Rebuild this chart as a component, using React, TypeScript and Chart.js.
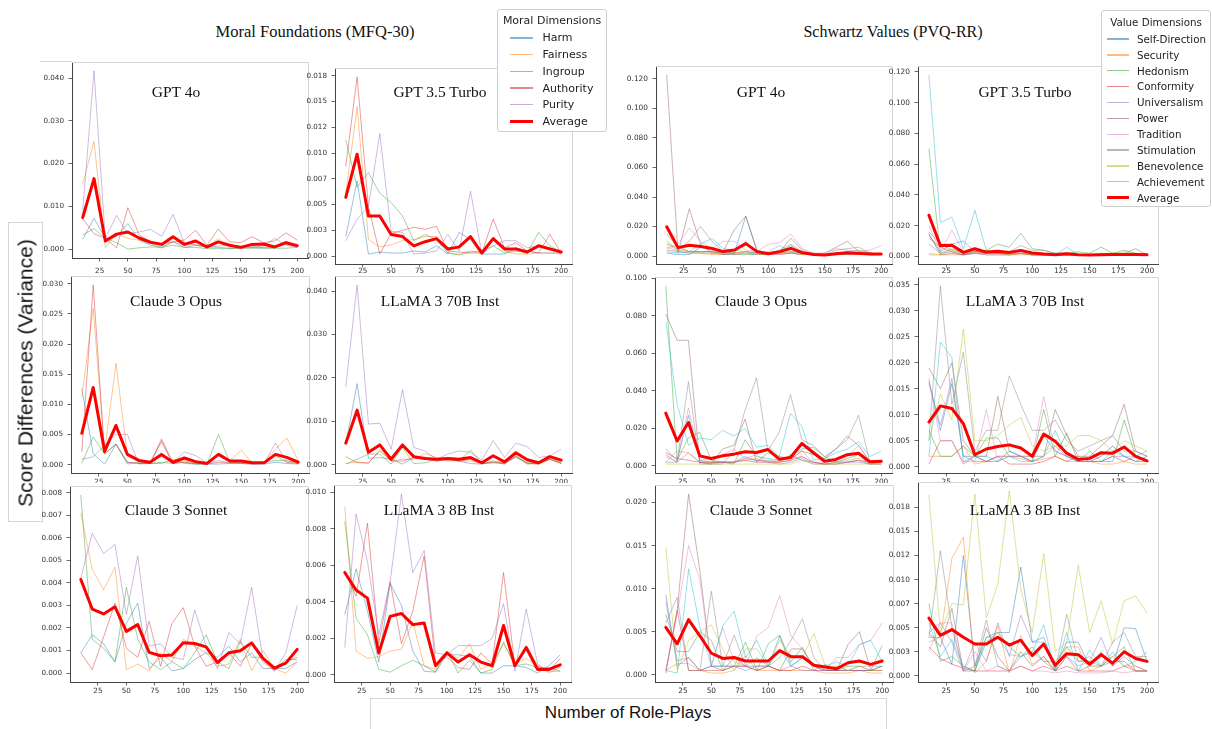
import React, { useEffect, useRef } from "react";
import { Chart, registerables } from "chart.js";

Chart.register(...registerables);

// ---------------- shared categories ----------------
const ROLE_PLAYS = [10, 20, 30, 40, 50, 60, 70, 80, 90, 100, 110, 120, 130, 140, 150, 160, 170, 180, 190, 200];
const X_TICKS = [25, 50, 75, 100, 125, 150, 175, 200];
const MODELS = ["GPT 4o", "GPT 3.5 Turbo", "Claude 3 Opus", "LLaMA 3 70B Inst", "Claude 3 Sonnet", "LLaMA 3 8B Inst"];
const MORAL_DIMENSIONS = ["Harm", "Fairness", "Ingroup", "Authority", "Purity"];
const VALUE_DIMENSIONS = ["Self-Direction", "Security", "Hedonism", "Conformity", "Universalism", "Power", "Tradition", "Stimulation", "Benevolence", "Achievement"];
const TAB10 = ["#1f77b4", "#ff7f0e", "#2ca02c", "#d62728", "#9467bd", "#8c564b", "#e377c2", "#7f7f7f", "#bcbd22", "#17becf"];
const AVERAGE_COLOR = "#ff0000";

// ---------------- y tick values / labels ----------------
const Y_TICKS_040 = [0, 0.01, 0.02, 0.03, 0.04];
const Y_LABELS_040 = ["0.000", "0.010", "0.020", "0.030", "0.040"];
const Y_TICKS_018 = [0, 0.0025, 0.005, 0.0075, 0.01, 0.0125, 0.015, 0.0175];
const Y_LABELS_018 = ["0.000", "0.003", "0.005", "0.007", "0.010", "0.012", "0.015", "0.018"];
const Y_TICKS_030 = [0, 0.005, 0.01, 0.015, 0.02, 0.025, 0.03];
const Y_LABELS_030 = ["0.000", "0.005", "0.010", "0.015", "0.020", "0.025", "0.030"];
const Y_TICKS_008 = [0, 0.001, 0.002, 0.003, 0.004, 0.005, 0.006, 0.007, 0.008];
const Y_LABELS_008 = ["0.000", "0.001", "0.002", "0.003", "0.004", "0.005", "0.006", "0.007", "0.008"];
const Y_TICKS_010 = [0, 0.002, 0.004, 0.006, 0.008, 0.01];
const Y_LABELS_010 = ["0.000", "0.002", "0.004", "0.006", "0.008", "0.010"];
const Y_TICKS_120 = [0, 0.02, 0.04, 0.06, 0.08, 0.1, 0.12];
const Y_LABELS_120 = ["0.000", "0.020", "0.040", "0.060", "0.080", "0.100", "0.120"];
const Y_TICKS_100 = [0, 0.02, 0.04, 0.06, 0.08, 0.1];
const Y_LABELS_100 = ["0.000", "0.020", "0.040", "0.060", "0.080", "0.100"];
const Y_TICKS_035 = [0, 0.005, 0.01, 0.015, 0.02, 0.025, 0.03, 0.035];
const Y_LABELS_035 = ["0.000", "0.005", "0.010", "0.015", "0.020", "0.025", "0.030", "0.035"];
const Y_TICKS_020 = [0, 0.005, 0.01, 0.015, 0.02];
const Y_LABELS_020 = ["0.000", "0.005", "0.010", "0.015", "0.020"];

// ---------------- Moral Foundations (MFQ-30): Harm, Fairness, Ingroup, Authority, Purity ----------------
const MFQ_GPT4O = [
  [0.0023, 0.0072, 0.0025, 0.0029, 0.006, 0.0021, 0.0009, 0.0005, 0.0017, 0.0004, 0.0009, 0.0005, 0.0004, 0.0002, 0.0002, 0.0004, 0.0003, 0.0003, 0.0012, 0.0004],
  [0.0153, 0.0252, 0.0004, 0.0036, 0.0025, 0.0021, 0.0013, 0.0002, 0.0017, 0.0009, 0.0011, 0.0003, 0.0025, 0.0005, 0.0004, 0.0005, 0.0004, 0.0005, 0.0019, 0.0007],
  [0.0033, 0.0048, 0.0025, 0.0015, 0.0, 0.0003, 0.0005, 0.0004, 0.0009, 0.0004, 0.0004, 0.0001, 0.0001, 0.0001, 0.0002, 0.0002, 0.0002, 0.0002, 0.0002, 0.0004],
  [0.0071, 0.0036, 0.0025, 0.0003, 0.0097, 0.0033, 0.0017, 0.0013, 0.0017, 0.0021, 0.0044, 0.0009, 0.0047, 0.0017, 0.0015, 0.0029, 0.0015, 0.0019, 0.0038, 0.0021],
  [0.009, 0.0417, 0.0025, 0.0079, 0.0036, 0.004, 0.0046, 0.003, 0.0081, 0.0015, 0.0009, 0.0005, 0.0007, 0.0009, 0.0007, 0.0005, 0.0007, 0.0025, 0.0009, 0.0005],
];
const MFQ_GPT4O_AVG = [0.0074, 0.0165, 0.0019, 0.0035, 0.004, 0.0026, 0.0016, 0.0011, 0.0029, 0.0011, 0.0019, 0.0005, 0.0017, 0.0009, 0.0004, 0.0011, 0.0012, 0.0005, 0.0015, 0.0008];

const MFQ_GPT35 = [
  [0.0019, 0.0073, 0.0002, 0.0004, 0.0003, 0.0003, 0.0005, 0.0004, 0.001, 0.0002, 0.0023, 0.0016, 0.0002, 0.0002, 0.0002, 0.0008, 0.0005, 0.0003, 0.0003, 0.0003],
  [0.0061, 0.0145, 0.0016, 0.0009, 0.0011, 0.0015, 0.0016, 0.0019, 0.0019, 0.0003, 0.0002, 0.0005, 0.0003, 0.0016, 0.0005, 0.0002, 0.0002, 0.0003, 0.0003, 0.0002],
  [0.0113, 0.0067, 0.0081, 0.0061, 0.0052, 0.0039, 0.0015, 0.0021, 0.0016, 0.0003, 0.0001, 0.0004, 0.0005, 0.001, 0.0003, 0.0005, 0.0003, 0.0023, 0.001, 0.0004],
  [0.0087, 0.0174, 0.0048, 0.0002, 0.0022, 0.0025, 0.0028, 0.0026, 0.0029, 0.0005, 0.0004, 0.0003, 0.0003, 0.0036, 0.0008, 0.0013, 0.0005, 0.0003, 0.0021, 0.0003],
  [0.0015, 0.0036, 0.0048, 0.0119, 0.0024, 0.0023, 0.0002, 0.0003, 0.0005, 0.0021, 0.0005, 0.0063, 0.0002, 0.001, 0.0015, 0.0015, 0.0008, 0.001, 0.0006, 0.0003],
];
const MFQ_GPT35_AVG = [0.0057, 0.0099, 0.0039, 0.0039, 0.0021, 0.0019, 0.001, 0.0014, 0.0017, 0.0007, 0.0009, 0.0019, 0.0003, 0.0017, 0.0007, 0.0007, 0.0004, 0.001, 0.0007, 0.0004];

const MFQ_OPUS = [
  [0.0126, 0.0018, 0.0001, 0.0034, 0.0004, 0.0002, 0.0002, 0.0002, 0.0009, 0.0002, 0.0001, 0.0001, 0.0001, 0.0002, 0.0002, 0.0001, 0.0001, 0.0004, 0.0002, 0.0001],
  [0.0112, 0.0259, 0.0021, 0.0168, 0.0015, 0.0007, 0.0004, 0.0037, 0.0002, 0.0007, 0.0002, 0.0004, 0.0018, 0.0007, 0.0024, 0.0002, 0.0004, 0.0026, 0.0044, 0.0007],
  [0.0002, 0.0046, 0.0018, 0.0034, 0.0001, 0.0004, 0.0002, 0.0004, 0.0002, 0.0004, 0.0001, 0.0001, 0.005, 0.0004, 0.0004, 0.0002, 0.0004, 0.0007, 0.0007, 0.0002],
  [0.0021, 0.0298, 0.0018, 0.0034, 0.0004, 0.0002, 0.0002, 0.004, 0.0002, 0.0004, 0.0002, 0.0001, 0.0004, 0.0004, 0.0002, 0.0001, 0.0002, 0.0015, 0.0004, 0.0002],
  [0.0009, 0.0013, 0.0032, 0.005, 0.005, 0.0001, 0.0002, 0.0043, 0.0004, 0.0021, 0.0015, 0.0002, 0.0007, 0.0002, 0.0004, 0.0002, 0.0002, 0.0036, 0.0004, 0.0007],
];
const MFQ_OPUS_AVG = [0.0052, 0.0128, 0.0022, 0.0065, 0.0017, 0.0007, 0.0004, 0.0017, 0.0004, 0.0011, 0.0005, 0.0002, 0.0017, 0.0006, 0.0006, 0.0003, 0.0003, 0.0017, 0.0012, 0.0004];

const MFQ_LLAMA70 = [
  [0.0048, 0.0187, 0.0015, 0.0017, 0.0013, 0.0002, 0.0017, 0.0013, 0.0009, 0.0013, 0.0009, 0.0003, 0.0002, 0.0009, 0.0005, 0.0017, 0.0005, 0.0003, 0.0013, 0.0005],
  [0.0003, 0.0007, 0.0003, 0.0036, 0.0009, 0.0013, 0.0013, 0.0026, 0.0017, 0.0009, 0.0009, 0.0009, 0.0003, 0.0005, 0.0005, 0.0019, 0.0005, 0.0002, 0.0013, 0.0003],
  [0.0002, 0.0013, 0.0025, 0.0025, 0.0002, 0.004, 0.0003, 0.0005, 0.0013, 0.0013, 0.0009, 0.0034, 0.0003, 0.0005, 0.0003, 0.0021, 0.0002, 0.0005, 0.0017, 0.0005],
  [0.0019, 0.0005, 0.0005, 0.0032, 0.0009, 0.0009, 0.0017, 0.0017, 0.0009, 0.0013, 0.0009, 0.0013, 0.0003, 0.0007, 0.0002, 0.0021, 0.0003, 0.0002, 0.0013, 0.0003],
  [0.0179, 0.0414, 0.0094, 0.0096, 0.0036, 0.0173, 0.004, 0.0032, 0.0013, 0.0025, 0.0032, 0.0029, 0.0011, 0.0056, 0.0017, 0.005, 0.0042, 0.0017, 0.0021, 0.0036],
];
const MFQ_LLAMA70_AVG = [0.005, 0.0126, 0.0029, 0.0046, 0.0013, 0.0046, 0.0019, 0.0015, 0.0013, 0.0015, 0.0013, 0.0017, 0.0005, 0.0021, 0.0007, 0.0028, 0.0012, 0.0005, 0.0019, 0.0011];

const MFQ_SONNET = [
  [0.0009, 0.0017, 0.0013, 0.0005, 0.0022, 0.0031, 0.0002, 0.0007, 0.0001, 0.0002, 0.0006, 0.0009, 0.0007, 0.0012, 0.0005, 0.0009, 0.0002, 0.0002, 0.0002, 0.0005],
  [0.0071, 0.0046, 0.0037, 0.0047, 0.00015, 0.0004, 0.0001, 0.0009, 0.0005, 0.0015, 0.0012, 0.0009, 0.0003, 0.0004, 0.0015, 0.0001, 0.001, 0.0002, 0.0, 0.0005],
  [0.0079, 0.0015, 0.0011, 0.0005, 0.0038, 0.0015, 0.0005, 0.00015, 0.0005, 0.0002, 0.0009, 0.0017, 0.0005, 0.0002, 0.0014, 0.0007, 0.0007, 0.0002, 0.0006, 0.0006],
  [0.0009, 0.00015, 0.0016, 0.0031, 0.0011, 0.0007, 0.0023, 0.0003, 0.0022, 0.0029, 0.0012, 0.0003, 0.0005, 0.0009, 0.0003, 0.0013, 0.0005, 0.0001, 0.0005, 0.0007],
  [0.0042, 0.0062, 0.0053, 0.0057, 0.0026, 0.0052, 0.0012, 0.0013, 0.0007, 0.0006, 0.0028, 0.0012, 0.0002, 0.0018, 0.0013, 0.0038, 0.0006, 0.0001, 0.0009, 0.003],
];
const MFQ_SONNET_AVG = [0.00415, 0.00284, 0.00262, 0.00294, 0.00185, 0.00215, 0.00092, 0.00077, 0.0008, 0.00135, 0.00131, 0.00116, 0.00047, 0.0009, 0.00099, 0.00134, 0.00065, 0.00022, 0.00044, 0.00105];

const MFQ_LLAMA8 = [
  [0.0033, 0.0058, 0.0035, 0.0007, 0.005, 0.0038, 0.0013, 0.0002, 0.00015, 0.0011, 0.0011, 0.001, 0.0001, 0.0001, 0.0005, 0.0005, 0.0004, 0.0001, 0.0005, 0.0011],
  [0.0092, 0.0013, 0.0009, 0.001, 0.0013, 0.0014, 0.0029, 0.0005, 0.0003, 0.0013, 0.0009, 0.0017, 0.0003, 0.0006, 0.0017, 0.0006, 0.0009, 0.0005, 0.0001, 0.0004],
  [0.0084, 0.0031, 0.0022, 0.0003, 0.00015, 0.0005, 0.0008, 0.0005, 0.00015, 0.0013, 0.0001, 0.0008, 0.0001, 0.0003, 0.0018, 0.0005, 0.0006, 0.0004, 0.0004, 0.0002],
  [0.0057, 0.0043, 0.0083, 0.0017, 0.0051, 0.0017, 0.0035, 0.0065, 0.0006, 0.001, 0.0004, 0.0003, 0.0012, 0.0006, 0.0056, 0.0005, 0.0016, 0.0005, 0.0002, 0.0009],
  [0.0015, 0.0088, 0.0062, 0.0022, 0.0051, 0.0099, 0.0056, 0.0068, 0.0012, 0.0011, 0.0016, 0.0016, 0.0016, 0.002, 0.0039, 0.0002, 0.0036, 0.0006, 0.0002, 0.0002],
];
const MFQ_LLAMA8_AVG = [0.0056, 0.00464, 0.0042, 0.0012, 0.0032, 0.00336, 0.00275, 0.00284, 0.0005, 0.0012, 0.0007, 0.0011, 0.0007, 0.0005, 0.0027, 0.0005, 0.0015, 0.0003, 0.0003, 0.00055];

// ---------------- Schwartz Values (PVQ-RR), order of VALUE_DIMENSIONS ----------------
const PVQ_GPT4O = [
  [0.002, 0.001, 0.001, 0.006, 0.004, 0.002, 0.002, 0.027, 0.003, 0.001, 0.002, 0.002, 0.001, 0.001, 0.001, 0.001, 0.001, 0.001, 0.001, 0.001],
  [0.006, 0.003, 0.002, 0.002, 0.001, 0.001, 0.002, 0.002, 0.002, 0.001, 0.001, 0.002, 0.001, 0.001, 0.001, 0.001, 0.001, 0.001, 0.001, 0.001],
  [0.01, 0.004, 0.003, 0.003, 0.003, 0.001, 0.001, 0.001, 0.001, 0.001, 0.003, 0.007, 0.002, 0.001, 0.001, 0.002, 0.003, 0.004, 0.002, 0.001],
  [0.015, 0.006, 0.003, 0.003, 0.003, 0.002, 0.002, 0.003, 0.002, 0.002, 0.002, 0.003, 0.002, 0.001, 0.001, 0.002, 0.002, 0.002, 0.001, 0.001],
  [0.004, 0.003, 0.002, 0.002, 0.002, 0.001, 0.001, 0.002, 0.001, 0.001, 0.001, 0.002, 0.001, 0.001, 0.001, 0.001, 0.001, 0.001, 0.001, 0.001],
  [0.1227, 0.0023, 0.032, 0.008, 0.002, 0.003, 0.018, 0.027, 0.004, 0.002, 0.003, 0.012, 0.004, 0.001, 0.002, 0.006, 0.01, 0.003, 0.002, 0.001],
  [0.005, 0.008, 0.019, 0.01, 0.005, 0.01, 0.01, 0.004, 0.003, 0.008, 0.009, 0.015, 0.005, 0.002, 0.002, 0.005, 0.004, 0.003, 0.004, 0.007],
  [0.008, 0.004, 0.01, 0.02, 0.01, 0.003, 0.002, 0.01, 0.003, 0.002, 0.004, 0.008, 0.003, 0.002, 0.001, 0.004, 0.005, 0.006, 0.002, 0.001],
  [0.008, 0.006, 0.003, 0.002, 0.002, 0.002, 0.001, 0.003, 0.001, 0.002, 0.002, 0.003, 0.001, 0.001, 0.001, 0.001, 0.002, 0.001, 0.001, 0.001],
  [0.003, 0.002, 0.003, 0.008, 0.012, 0.005, 0.004, 0.003, 0.002, 0.003, 0.007, 0.003, 0.002, 0.001, 0.001, 0.002, 0.002, 0.002, 0.001, 0.001],
];
const PVQ_GPT4O_AVG = [0.0198, 0.0057, 0.0073, 0.0064, 0.0052, 0.003, 0.0041, 0.0084, 0.003, 0.0016, 0.003, 0.0052, 0.0023, 0.0011, 0.0007, 0.0016, 0.0023, 0.0018, 0.0014, 0.0014];

const PVQ_GPT35 = [
  [0.014, 0.003, 0.008, 0.01, 0.003, 0.003, 0.002, 0.002, 0.002, 0.001, 0.001, 0.001, 0.001, 0.001, 0.001, 0.001, 0.001, 0.001, 0.001, 0.001],
  [0.001, 0.001, 0.001, 0.001, 0.002, 0.001, 0.001, 0.001, 0.001, 0.001, 0.001, 0.001, 0.001, 0.001, 0.001, 0.001, 0.001, 0.001, 0.001, 0.001],
  [0.07, 0.002, 0.005, 0.002, 0.003, 0.004, 0.008, 0.006, 0.015, 0.005, 0.004, 0.002, 0.002, 0.003, 0.002, 0.006, 0.002, 0.004, 0.002, 0.001],
  [0.012, 0.006, 0.003, 0.001, 0.003, 0.002, 0.002, 0.002, 0.003, 0.002, 0.001, 0.001, 0.002, 0.001, 0.001, 0.001, 0.002, 0.001, 0.001, 0.001],
  [0.008, 0.002, 0.003, 0.001, 0.002, 0.001, 0.001, 0.001, 0.002, 0.001, 0.001, 0.001, 0.001, 0.001, 0.001, 0.001, 0.001, 0.001, 0.001, 0.001],
  [0.015, 0.001, 0.002, 0.001, 0.002, 0.002, 0.002, 0.001, 0.002, 0.001, 0.001, 0.001, 0.001, 0.001, 0.001, 0.002, 0.001, 0.002, 0.005, 0.001],
  [0.02, 0.003, 0.017, 0.003, 0.002, 0.002, 0.003, 0.002, 0.003, 0.002, 0.002, 0.002, 0.002, 0.001, 0.001, 0.001, 0.001, 0.001, 0.001, 0.001],
  [0.016, 0.008, 0.004, 0.002, 0.004, 0.002, 0.004, 0.003, 0.007, 0.004, 0.004, 0.002, 0.002, 0.001, 0.001, 0.001, 0.002, 0.001, 0.002, 0.001],
  [0.002, 0.001, 0.004, 0.002, 0.002, 0.002, 0.002, 0.001, 0.002, 0.001, 0.002, 0.001, 0.001, 0.001, 0.001, 0.002, 0.002, 0.003, 0.002, 0.001],
  [0.118, 0.022, 0.0255, 0.005, 0.03, 0.004, 0.002, 0.003, 0.004, 0.002, 0.001, 0.001, 0.006, 0.001, 0.001, 0.001, 0.001, 0.001, 0.001, 0.002],
];
const PVQ_GPT35_AVG = [0.0268, 0.007, 0.0072, 0.0026, 0.005, 0.0028, 0.0033, 0.0026, 0.0039, 0.0022, 0.0015, 0.0011, 0.0017, 0.0011, 0.0009, 0.0011, 0.0013, 0.0013, 0.0013, 0.0011];

const PVQ_OPUS = [
  [0.009, 0.003, 0.027, 0.003, 0.002, 0.002, 0.002, 0.004, 0.003, 0.003, 0.002, 0.006, 0.003, 0.002, 0.001, 0.002, 0.002, 0.003, 0.001, 0.001],
  [0.002, 0.008, 0.007, 0.002, 0.002, 0.002, 0.002, 0.003, 0.004, 0.002, 0.002, 0.003, 0.008, 0.002, 0.001, 0.002, 0.003, 0.004, 0.002, 0.002],
  [0.096, 0.003, 0.015, 0.018, 0.003, 0.002, 0.001, 0.014, 0.005, 0.004, 0.003, 0.005, 0.009, 0.01, 0.005, 0.002, 0.004, 0.006, 0.001, 0.002],
  [0.007, 0.004, 0.003, 0.002, 0.002, 0.002, 0.002, 0.003, 0.002, 0.002, 0.002, 0.003, 0.005, 0.002, 0.001, 0.001, 0.002, 0.003, 0.002, 0.002],
  [0.006, 0.002, 0.007, 0.002, 0.001, 0.002, 0.002, 0.005, 0.003, 0.002, 0.001, 0.002, 0.004, 0.001, 0.001, 0.001, 0.002, 0.002, 0.001, 0.001],
  [0.081, 0.067, 0.067, 0.002, 0.001, 0.009, 0.011, 0.025, 0.002, 0.007, 0.005, 0.004, 0.008, 0.006, 0.004, 0.009, 0.016, 0.011, 0.002, 0.002],
  [0.005, 0.002, 0.031, 0.003, 0.004, 0.006, 0.009, 0.004, 0.006, 0.002, 0.003, 0.004, 0.005, 0.002, 0.002, 0.003, 0.005, 0.011, 0.003, 0.003],
  [0.002, 0.002, 0.045, 0.001, 0.001, 0.001, 0.008, 0.03, 0.047, 0.008, 0.018, 0.038, 0.014, 0.011, 0.005, 0.009, 0.014, 0.027, 0.002, 0.002],
  [0.001, 0.001, 0.001, 0.001, 0.001, 0.001, 0.001, 0.001, 0.001, 0.001, 0.001, 0.001, 0.003, 0.001, 0.001, 0.001, 0.001, 0.001, 0.001, 0.001],
  [0.077, 0.033, 0.011, 0.015, 0.014, 0.019, 0.016, 0.02, 0.01, 0.011, 0.005, 0.028, 0.021, 0.003, 0.004, 0.007, 0.009, 0.013, 0.005, 0.008],
];
const PVQ_OPUS_AVG = [0.0282, 0.0133, 0.0232, 0.0054, 0.004, 0.0054, 0.0063, 0.0076, 0.0072, 0.0088, 0.0036, 0.0045, 0.012, 0.0072, 0.0025, 0.0035, 0.006, 0.0068, 0.0022, 0.0025];

const PVQ_LLAMA70 = [
  [0.0165, 0.007, 0.016, 0.002, 0.002, 0.001, 0.001, 0.003, 0.002, 0.001, 0.006, 0.003, 0.002, 0.001, 0.001, 0.002, 0.004, 0.002, 0.001, 0.002],
  [0.002, 0.002, 0.002, 0.004, 0.0005, 0.001, 0.002, 0.002, 0.0015, 0.001, 0.0015, 0.002, 0.001, 0.001, 0.001, 0.0005, 0.0005, 0.001, 0.0005, 0.0005],
  [0.007, 0.002, 0.002, 0.004, 0.002, 0.0055, 0.0055, 0.002, 0.002, 0.001, 0.011, 0.002, 0.0065, 0.001, 0.003, 0.001, 0.001, 0.009, 0.002, 0.001],
  [0.0005, 0.005, 0.005, 0.0005, 0.002, 0.001, 0.002, 0.0005, 0.0005, 0.0005, 0.001, 0.002, 0.001, 0.002, 0.001, 0.001, 0.002, 0.001, 0.002, 0.001],
  [0.016, 0.008, 0.017, 0.002, 0.001, 0.001, 0.002, 0.002, 0.002, 0.001, 0.002, 0.004, 0.002, 0.001, 0.001, 0.001, 0.002, 0.002, 0.001, 0.001],
  [0.019, 0.015, 0.02, 0.005, 0.002, 0.002, 0.0135, 0.003, 0.002, 0.002, 0.002, 0.011, 0.006, 0.002, 0.002, 0.004, 0.006, 0.012, 0.003, 0.002],
  [0.017, 0.005, 0.005, 0.001, 0.001, 0.011, 0.001, 0.002, 0.002, 0.002, 0.0135, 0.003, 0.002, 0.001, 0.001, 0.002, 0.004, 0.002, 0.001, 0.001],
  [0.005, 0.0348, 0.012, 0.022, 0.003, 0.007, 0.007, 0.0175, 0.012, 0.007, 0.007, 0.009, 0.005, 0.003, 0.004, 0.005, 0.006, 0.003, 0.003, 0.002],
  [0.005, 0.014, 0.009, 0.0265, 0.005, 0.005, 0.006, 0.008, 0.0095, 0.004, 0.003, 0.004, 0.004, 0.006, 0.006, 0.005, 0.003, 0.005, 0.004, 0.003],
  [0.002, 0.024, 0.021, 0.001, 0.002, 0.002, 0.001, 0.002, 0.001, 0.001, 0.002, 0.007, 0.002, 0.001, 0.001, 0.001, 0.003, 0.002, 0.002, 0.003],
];
const PVQ_LLAMA70_AVG = [0.0086, 0.0117, 0.0112, 0.0083, 0.0023, 0.0034, 0.0039, 0.0042, 0.0036, 0.002, 0.0063, 0.0049, 0.0026, 0.0014, 0.0016, 0.0027, 0.0026, 0.0038, 0.002, 0.0011];

const PVQ_SONNET = [
  [0.0093, 0.001, 0.002, 0.0005, 0.001, 0.001, 0.001, 0.001, 0.001, 0.001, 0.0045, 0.001, 0.002, 0.001, 0.0005, 0.0005, 0.0005, 0.0005, 0.0005, 0.001],
  [0.0005, 0.0013, 0.0013, 0.0005, 0.0002, 0.0002, 0.0005, 0.0022, 0.0005, 0.0005, 0.0005, 0.0005, 0.0005, 0.0005, 0.0002, 0.0002, 0.0002, 0.0005, 0.0002, 0.0002],
  [0.007, 0.0027, 0.0027, 0.005, 0.004, 0.0005, 0.001, 0.0038, 0.0005, 0.0036, 0.0046, 0.0015, 0.0032, 0.0005, 0.0012, 0.0005, 0.001, 0.001, 0.0005, 0.0034],
  [0.0002, 0.0075, 0.0005, 0.0005, 0.0005, 0.0005, 0.001, 0.001, 0.0005, 0.001, 0.0005, 0.0005, 0.001, 0.0005, 0.0005, 0.0005, 0.0005, 0.0005, 0.0005, 0.0005],
  [0.0085, 0.0016, 0.002, 0.0005, 0.001, 0.001, 0.001, 0.0005, 0.001, 0.001, 0.0005, 0.001, 0.0005, 0.0005, 0.0005, 0.0005, 0.0005, 0.0005, 0.0005, 0.0005],
  [0.0005, 0.0075, 0.021, 0.012, 0.001, 0.0005, 0.002, 0.001, 0.0005, 0.001, 0.0005, 0.003, 0.003, 0.001, 0.0005, 0.0005, 0.0035, 0.005, 0.0005, 0.001],
  [0.0005, 0.007, 0.015, 0.011, 0.001, 0.0055, 0.0015, 0.001, 0.0045, 0.0055, 0.0092, 0.0045, 0.003, 0.001, 0.0005, 0.002, 0.002, 0.0035, 0.004, 0.006],
  [0.006, 0.009, 0.0005, 0.0005, 0.0097, 0.001, 0.0046, 0.001, 0.002, 0.001, 0.002, 0.004, 0.0065, 0.002, 0.0005, 0.001, 0.0005, 0.001, 0.001, 0.001],
  [0.0148, 0.0005, 0.004, 0.005, 0.0058, 0.003, 0.0005, 0.003, 0.003, 0.001, 0.004, 0.002, 0.002, 0.0048, 0.001, 0.001, 0.0005, 0.001, 0.0005, 0.0005],
  [0.0005, 0.0002, 0.0123, 0.0055, 0.001, 0.0057, 0.0074, 0.002, 0.004, 0.001, 0.003, 0.001, 0.002, 0.001, 0.001, 0.0015, 0.001, 0.0035, 0.004, 0.0015],
];
const PVQ_SONNET_AVG = [0.0055, 0.0036, 0.0064, 0.0045, 0.0025, 0.0019, 0.002, 0.0016, 0.0016, 0.0016, 0.0028, 0.0021, 0.0021, 0.0011, 0.0009, 0.0007, 0.0014, 0.0016, 0.0012, 0.0016];

const PVQ_LLAMA8 = [
  [0.004, 0.004, 0.0012, 0.0125, 0.001, 0.004, 0.0045, 0.0045, 0.0113, 0.0035, 0.004, 0.0008, 0.0035, 0.0035, 0.001, 0.0025, 0.001, 0.005, 0.0049, 0.0015],
  [0.0035, 0.004, 0.0122, 0.0144, 0.0003, 0.0015, 0.0052, 0.0003, 0.0042, 0.0012, 0.002, 0.0005, 0.003, 0.003, 0.0005, 0.001, 0.002, 0.001, 0.001, 0.0005],
  [0.0075, 0.0015, 0.002, 0.001, 0.0005, 0.0035, 0.0045, 0.003, 0.002, 0.003, 0.0015, 0.0015, 0.003, 0.0015, 0.0015, 0.001, 0.002, 0.003, 0.0005, 0.0005],
  [0.003, 0.0018, 0.0012, 0.0008, 0.0005, 0.0005, 0.0005, 0.0005, 0.001, 0.0005, 0.001, 0.0005, 0.001, 0.0005, 0.0005, 0.0005, 0.0005, 0.001, 0.0005, 0.0005],
  [0.0045, 0.0055, 0.0035, 0.0005, 0.0035, 0.0015, 0.0055, 0.002, 0.0063, 0.0035, 0.0035, 0.0005, 0.002, 0.001, 0.0015, 0.004, 0.001, 0.002, 0.001, 0.0005],
  [0.0045, 0.003, 0.007, 0.0005, 0.0005, 0.005, 0.002, 0.0005, 0.0025, 0.001, 0.002, 0.0005, 0.002, 0.0005, 0.001, 0.001, 0.0015, 0.0015, 0.0005, 0.0005],
  [0.0025, 0.0055, 0.0055, 0.0005, 0.0025, 0.0005, 0.001, 0.0005, 0.001, 0.0005, 0.0005, 0.0003, 0.0005, 0.0003, 0.0003, 0.0003, 0.0005, 0.0003, 0.0005, 0.0005],
  [0.004, 0.013, 0.005, 0.0005, 0.001, 0.0058, 0.001, 0.0005, 0.002, 0.0025, 0.0015, 0.0005, 0.0064, 0.0015, 0.002, 0.001, 0.0035, 0.0045, 0.002, 0.002],
  [0.0188, 0.0045, 0.0075, 0.0074, 0.0189, 0.006, 0.0095, 0.0192, 0.009, 0.0045, 0.0127, 0.0025, 0.0035, 0.0115, 0.0045, 0.0078, 0.0033, 0.0078, 0.0083, 0.0065],
  [0.0055, 0.002, 0.0038, 0.001, 0.0005, 0.004, 0.004, 0.0022, 0.002, 0.0025, 0.0053, 0.0005, 0.0045, 0.0005, 0.0027, 0.001, 0.0025, 0.001, 0.0015, 0.0025],
];
const PVQ_LLAMA8_AVG = [0.006, 0.0042, 0.0048, 0.004, 0.0033, 0.0033, 0.004, 0.0032, 0.0037, 0.0021, 0.0033, 0.0011, 0.0023, 0.0022, 0.0012, 0.0022, 0.0013, 0.0025, 0.0018, 0.0015];

// ---------------- panel wiring (data) ----------------
type Panel = {
  id: string;
  title: string;
  dims: string[];
  series: number[][];
  avg: number[];
  yTicks: number[];
  yLabels: string[];
};

const PANELS: Panel[] = [
  { id: "mfq0", title: MODELS[0], dims: MORAL_DIMENSIONS, series: MFQ_GPT4O, avg: MFQ_GPT4O_AVG, yTicks: Y_TICKS_040, yLabels: Y_LABELS_040 },
  { id: "mfq1", title: MODELS[1], dims: MORAL_DIMENSIONS, series: MFQ_GPT35, avg: MFQ_GPT35_AVG, yTicks: Y_TICKS_018, yLabels: Y_LABELS_018 },
  { id: "mfq2", title: MODELS[2], dims: MORAL_DIMENSIONS, series: MFQ_OPUS, avg: MFQ_OPUS_AVG, yTicks: Y_TICKS_030, yLabels: Y_LABELS_030 },
  { id: "mfq3", title: MODELS[3], dims: MORAL_DIMENSIONS, series: MFQ_LLAMA70, avg: MFQ_LLAMA70_AVG, yTicks: Y_TICKS_040, yLabels: Y_LABELS_040 },
  { id: "mfq4", title: MODELS[4], dims: MORAL_DIMENSIONS, series: MFQ_SONNET, avg: MFQ_SONNET_AVG, yTicks: Y_TICKS_008, yLabels: Y_LABELS_008 },
  { id: "mfq5", title: MODELS[5], dims: MORAL_DIMENSIONS, series: MFQ_LLAMA8, avg: MFQ_LLAMA8_AVG, yTicks: Y_TICKS_010, yLabels: Y_LABELS_010 },
  { id: "pvq0", title: MODELS[0], dims: VALUE_DIMENSIONS, series: PVQ_GPT4O, avg: PVQ_GPT4O_AVG, yTicks: Y_TICKS_120, yLabels: Y_LABELS_120 },
  { id: "pvq1", title: MODELS[1], dims: VALUE_DIMENSIONS, series: PVQ_GPT35, avg: PVQ_GPT35_AVG, yTicks: Y_TICKS_120, yLabels: Y_LABELS_120 },
  { id: "pvq2", title: MODELS[2], dims: VALUE_DIMENSIONS, series: PVQ_OPUS, avg: PVQ_OPUS_AVG, yTicks: Y_TICKS_100, yLabels: Y_LABELS_100 },
  { id: "pvq3", title: MODELS[3], dims: VALUE_DIMENSIONS, series: PVQ_LLAMA70, avg: PVQ_LLAMA70_AVG, yTicks: Y_TICKS_035, yLabels: Y_LABELS_035 },
  { id: "pvq4", title: MODELS[4], dims: VALUE_DIMENSIONS, series: PVQ_SONNET, avg: PVQ_SONNET_AVG, yTicks: Y_TICKS_020, yLabels: Y_LABELS_020 },
  { id: "pvq5", title: MODELS[5], dims: VALUE_DIMENSIONS, series: PVQ_LLAMA8, avg: PVQ_LLAMA8_AVG, yTicks: Y_TICKS_018, yLabels: Y_LABELS_018 },
];

// ---------------- layout (positions only) ----------------
type Layout = { plot: [number, number, number, number]; title: [number, number]; row: number; font: number; xPad: number };
const LAYOUT: Record<string, Layout> = {
  mfq0: { plot: [72, 62, 308, 258], title: [176, 92], row: 0, font: 7.2, xPad: 6 },
  mfq1: { plot: [335, 68, 572, 264], title: [440, 92], row: 0, font: 7.2, xPad: 0 },
  mfq2: { plot: [71, 276, 309, 473], title: [176, 301], row: 1, font: 7.2, xPad: 2 },
  mfq3: { plot: [335, 276, 572, 473], title: [440, 301], row: 1, font: 7.2, xPad: 2 },
  mfq4: { plot: [70, 486, 308, 682], title: [176, 510], row: 2, font: 7.2, xPad: 2 },
  mfq5: { plot: [334, 485, 571, 682], title: [439, 510], row: 2, font: 7.2, xPad: 2 },
  pvq0: { plot: [656, 66, 892, 264], title: [761, 92], row: 0, font: 7.4, xPad: 0 },
  pvq1: { plot: [918, 66, 1158, 264], title: [1025, 92], row: 0, font: 7.4, xPad: 0 },
  pvq2: { plot: [655, 277, 892, 473], title: [761, 301], row: 1, font: 7.4, xPad: 2 },
  pvq3: { plot: [918, 277, 1158, 473], title: [1025, 301], row: 1, font: 7.4, xPad: 2 },
  pvq4: { plot: [655, 485, 893, 682], title: [761, 510], row: 2, font: 7.4, xPad: 2 },
  pvq5: { plot: [918, 482, 1158, 682], title: [1025, 510], row: 2, font: 7.4, xPad: 2 },
};

function withAlpha(hex: string, a: number) {
  const r = parseInt(hex.slice(1, 3), 16);
  const g = parseInt(hex.slice(3, 5), 16);
  const b = parseInt(hex.slice(5, 7), 16);
  return `rgba(${r},${g},${b},${a})`;
}

const framePlugin = {
  id: "lightFrame",
  afterDraw(chart: any) {
    const { ctx, chartArea } = chart;
    const { left, right, top, bottom } = chartArea;
    ctx.save();
    ctx.strokeStyle = "#d4d4d4";
    ctx.lineWidth = 1;
    ctx.beginPath();
    ctx.moveTo(Math.round(left), Math.round(top) + 0.5);
    ctx.lineTo(Math.round(right) + 0.5, Math.round(top) + 0.5);
    ctx.lineTo(Math.round(right) + 0.5, Math.round(bottom));
    ctx.stroke();
    ctx.restore();
  },
};

const YW = 34;
const PT = 10;
const PR = 6;

function PanelChart({ panel, layout }: { panel: Panel; layout: Layout }) {
  const ref = useRef<HTMLCanvasElement | null>(null);
  const [L, T, R, B] = layout.plot;
  const XH = layout.row === 1 ? 10 : 20;
  const left = L - YW;
  const top = T - PT;
  const width = YW + (R - L) + PR;
  const height = PT + (B - T) + XH;

  useEffect(() => {
    const canvas = ref.current;
    if (!canvas) return;
    const allValues = [...panel.series.flat(), ...panel.avg];
    const maxV = Math.max(...allValues);
    const minV = Math.min(...allValues);
    const ext = (maxV - minV) * 0.05;
    const font = { family: "DejaVu Sans", size: layout.font, lineHeight: 1 };

    const datasets: any[] = panel.series.map((vals, k) => ({
      label: panel.dims[k],
      data: ROLE_PLAYS.map((x, i) => ({ x, y: vals[i] })),
      borderColor: withAlpha(TAB10[k], 0.45),
      borderWidth: 1,
      pointRadius: 0,
      tension: 0,
      fill: false,
      borderJoinStyle: "round",
      order: panel.series.length - k,
    }));
    datasets.push({
      label: "Average",
      data: ROLE_PLAYS.map((x, i) => ({ x, y: panel.avg[i] })),
      borderColor: AVERAGE_COLOR,
      borderWidth: 3,
      pointRadius: 0,
      tension: 0,
      fill: false,
      borderJoinStyle: "round",
      borderCapStyle: "round",
      order: -1,
    });

    const chart = new Chart(canvas, {
      type: "line",
      data: { datasets },
      options: {
        responsive: false,
        animation: false,
        devicePixelRatio: 1,
        events: [],
        layout: { padding: { top: PT, right: PR, left: 0, bottom: 0 } },
        plugins: { legend: { display: false }, tooltip: { enabled: false }, title: { display: false } },
        scales: {
          x: {
            type: "linear",
            min: 0.5,
            max: 209.5,
            bounds: "data",
            afterBuildTicks: (s: any) => {
              s.ticks = X_TICKS.map((v) => ({ value: v }));
            },
            afterFit: (s: any) => {
              s.height = XH;
            },
            ticks: {
              autoSkip: false,
              maxRotation: 0,
              minRotation: 0,
              padding: layout.xPad,
              color: "#333",
              font,
              callback: (v: any) => String(v),
            },
            grid: { drawOnChartArea: false, drawTicks: true, tickLength: 3.5, tickColor: "#444", tickWidth: 0.8 },
            border: { display: true, color: "#444", width: 1 },
          },
          y: {
            type: "linear",
            min: minV - ext,
            max: maxV + ext,
            bounds: "data",
            afterBuildTicks: (s: any) => {
              s.ticks = panel.yTicks.map((v) => ({ value: v }));
            },
            afterFit: (s: any) => {
              s.width = YW;
            },
            ticks: {
              autoSkip: false,
              padding: 4.5,
              color: "#333",
              font,
              callback: (_v: any, i: number) => panel.yLabels[i] ?? "",
            },
            grid: { drawOnChartArea: false, drawTicks: true, tickLength: 3.5, tickColor: "#444", tickWidth: 0.8 },
            border: { display: true, color: "#444", width: 1 },
          },
        },
      } as any,
      plugins: [framePlugin],
    });
    return () => chart.destroy();
  }, []);

  return (
    <canvas
      ref={ref}
      width={width}
      height={height}
      style={{ position: "absolute", left, top, width, height, zIndex: 1 }}
    />
  );
}

function Legend({ title, items, box, fontSize, rowStart, rowStep, sample, textX }: {
  title: string; items: string[]; box: [number, number, number, number]; fontSize: number;
  rowStart: number; rowStep: number; sample: [number, number]; textX: number;
}) {
  const [x, y, w, h] = box;
  const entries = [...items.map((name, k) => ({ name, color: withAlpha(TAB10[k], 0.55), lw: 1.3 })), { name: "Average", color: AVERAGE_COLOR, lw: 3 }];
  return (
    <div style={{ position: "absolute", left: x, top: y, width: w, height: h, background: "rgba(255,255,255,0.95)", border: "1px solid #cfcfcf", borderRadius: 3, boxSizing: "border-box", zIndex: 5, fontFamily: "DejaVu Sans", color: "#222" }}>
      <div style={{ position: "absolute", left: 0, width: "100%", top: 11 - fontSize * 0.6, textAlign: "center", fontSize, lineHeight: `${fontSize * 1.2}px`, whiteSpace: "nowrap" }}>{title}</div>
      {entries.map((e, k) => {
        const cy = rowStart + rowStep * k;
        return (
          <React.Fragment key={e.name}>
            <div style={{ position: "absolute", left: sample[0], width: sample[1] - sample[0], top: cy - e.lw / 2, height: e.lw, background: e.color }} />
            <div style={{ position: "absolute", left: textX, top: cy - fontSize * 0.6, fontSize, lineHeight: `${fontSize * 1.2}px`, whiteSpace: "nowrap" }}>{e.name}</div>
          </React.Fragment>
        );
      })}
    </div>
  );
}

function Text({ x, y, size, family, children, rotate }: { x: number; y: number; size: number; family: string; children: React.ReactNode; rotate?: boolean }) {
  return (
    <div style={{ position: "absolute", left: x, top: y, transform: `translate(-50%, -50%)${rotate ? " rotate(-90deg)" : ""}`, fontSize: size, fontFamily: family, whiteSpace: "nowrap", lineHeight: 1, color: "#111", zIndex: 4 }}>
      {children}
    </div>
  );
}

export default function App() {
  return (
    <div style={{ position: "absolute", left: 0, top: 0, width: 1212, height: 729, background: "#fff", overflow: "hidden" }}>
      {/* light frames of the composed figure */}
      <div style={{ position: "absolute", left: 8, top: 222, width: 35, height: 300, border: "1px solid #d6d6d6", boxSizing: "border-box" }} />
      <div style={{ position: "absolute", left: 370, top: 698, width: 517, height: 40, border: "1px solid #d6d6d6", boxSizing: "border-box" }} />
      <div style={{ position: "absolute", left: 40, top: 61, width: 32, height: 1, background: "#d6d6d6" }} />

      {PANELS.map((p) => (
        <PanelChart key={p.id} panel={p} layout={LAYOUT[p.id]} />
      ))}

      {PANELS.map((p) => (
        <Text key={p.id + "-t"} x={LAYOUT[p.id].title[0]} y={LAYOUT[p.id].title[1]} size={15.5} family="Liberation Serif">
          {p.title}
        </Text>
      ))}

      <Text x={315} y={32} size={16.5} family="Liberation Serif">Moral Foundations (MFQ-30)</Text>
      <Text x={893} y={32} size={16} family="Liberation Serif">Schwartz Values (PVQ-RR)</Text>

      <Text x={25} y={373} size={21} family="Liberation Sans" rotate>Score Differences (Variance)</Text>
      <Text x={628} y={712} size={17} family="Liberation Sans">Number of Role-Plays</Text>

      <Legend
        title="Moral Dimensions"
        items={MORAL_DIMENSIONS}
        box={[497, 9, 110, 123]}
        fontSize={11}
        rowStart={28}
        rowStep={16.7}
        sample={[12, 35]}
        textX={44.5}
      />
      <Legend
        title="Value Dimensions"
        items={VALUE_DIMENSIONS}
        box={[1101, 10, 110, 197]}
        fontSize={10.3}
        rowStart={28}
        rowStep={15.87}
        sample={[5, 27]}
        textX={35}
      />
    </div>
  );
}
